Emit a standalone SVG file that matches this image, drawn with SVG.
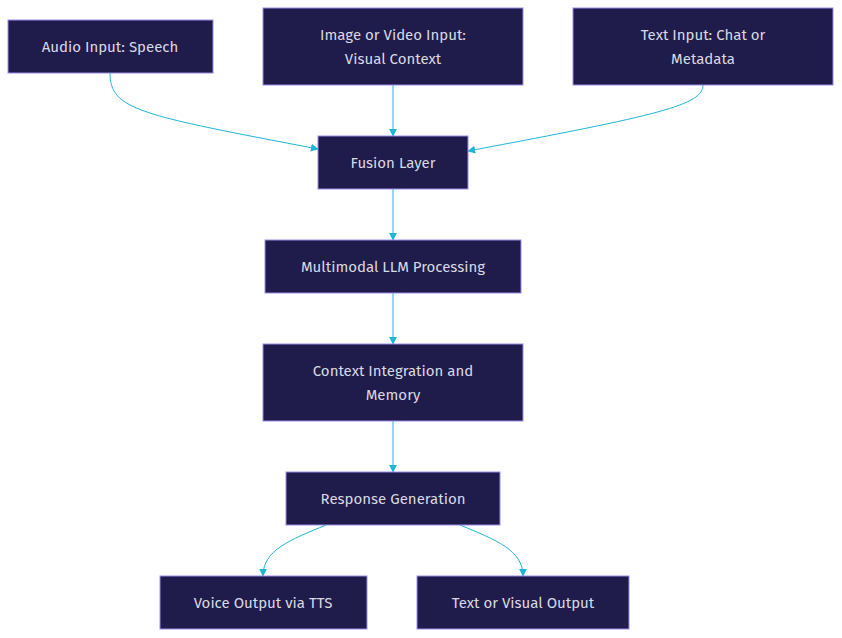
<svg xmlns="http://www.w3.org/2000/svg" width="842" height="638" viewBox="0 0 842 638">
<style>
.n rect{fill:#1f1b4a;stroke:#9c8ce8;stroke-width:1}
.n text{fill:#d9d9e3;font-family:"Fira Sans","Noto Sans",sans-serif;font-size:15px;text-anchor:middle}
.e path{fill:none;stroke:#1fb5d6;stroke-width:1;marker-end:url(#a)}
</style>
<defs><marker id="a" viewBox="0 0 10 10" refX="9" refY="5" markerWidth="8" markerHeight="8" orient="auto"><path d="M0,0L10,5L0,10z" fill="#1fb5d6"/></marker></defs>
<rect width="842" height="638" fill="#fff"/>
<g class="e">
<path d="M110,73C110,110 140,115 318,149"/>
<path d="M393,85V136"/>
<path d="M703,85C703,105 660,115 468,151"/>
<path d="M393,189V240"/>
<path d="M393,293V344"/>
<path d="M393,421V472"/>
<path d="M326,525C290,540 263,550 263,576"/>
<path d="M460,525C496,540 523,550 523,576"/>
</g>
<g id="audio" class="n"><rect x="8" y="20" width="205" height="53"/><text x="110" y="52">Audio Input: Speech</text></g>
<g id="image" class="n"><rect x="263" y="8" width="260" height="77"/><text x="393" y="40">Image or Video Input:</text><text x="393" y="64">Visual Context</text></g>
<g id="textin" class="n"><rect x="573" y="8" width="260" height="77"/><text x="703" y="40">Text Input: Chat or</text><text x="703" y="64">Metadata</text></g>
<g id="fusion" class="n"><rect x="318" y="136" width="150" height="53"/><text x="393" y="168">Fusion Layer</text></g>
<g id="llm" class="n"><rect x="265" y="240" width="256" height="53"/><text x="393" y="272">Multimodal LLM Processing</text></g>
<g id="context" class="n"><rect x="263" y="344" width="260" height="77"/><text x="393" y="376">Context Integration and</text><text x="393" y="400">Memory</text></g>
<g id="response" class="n"><rect x="286" y="472" width="214" height="53"/><text x="393" y="504">Response Generation</text></g>
<g id="voice" class="n"><rect x="160" y="576" width="207" height="53"/><text x="263" y="608">Voice Output via TTS</text></g>
<g id="textout" class="n"><rect x="417" y="576" width="212" height="53"/><text x="523" y="608">Text or Visual Output</text></g>
</svg>
